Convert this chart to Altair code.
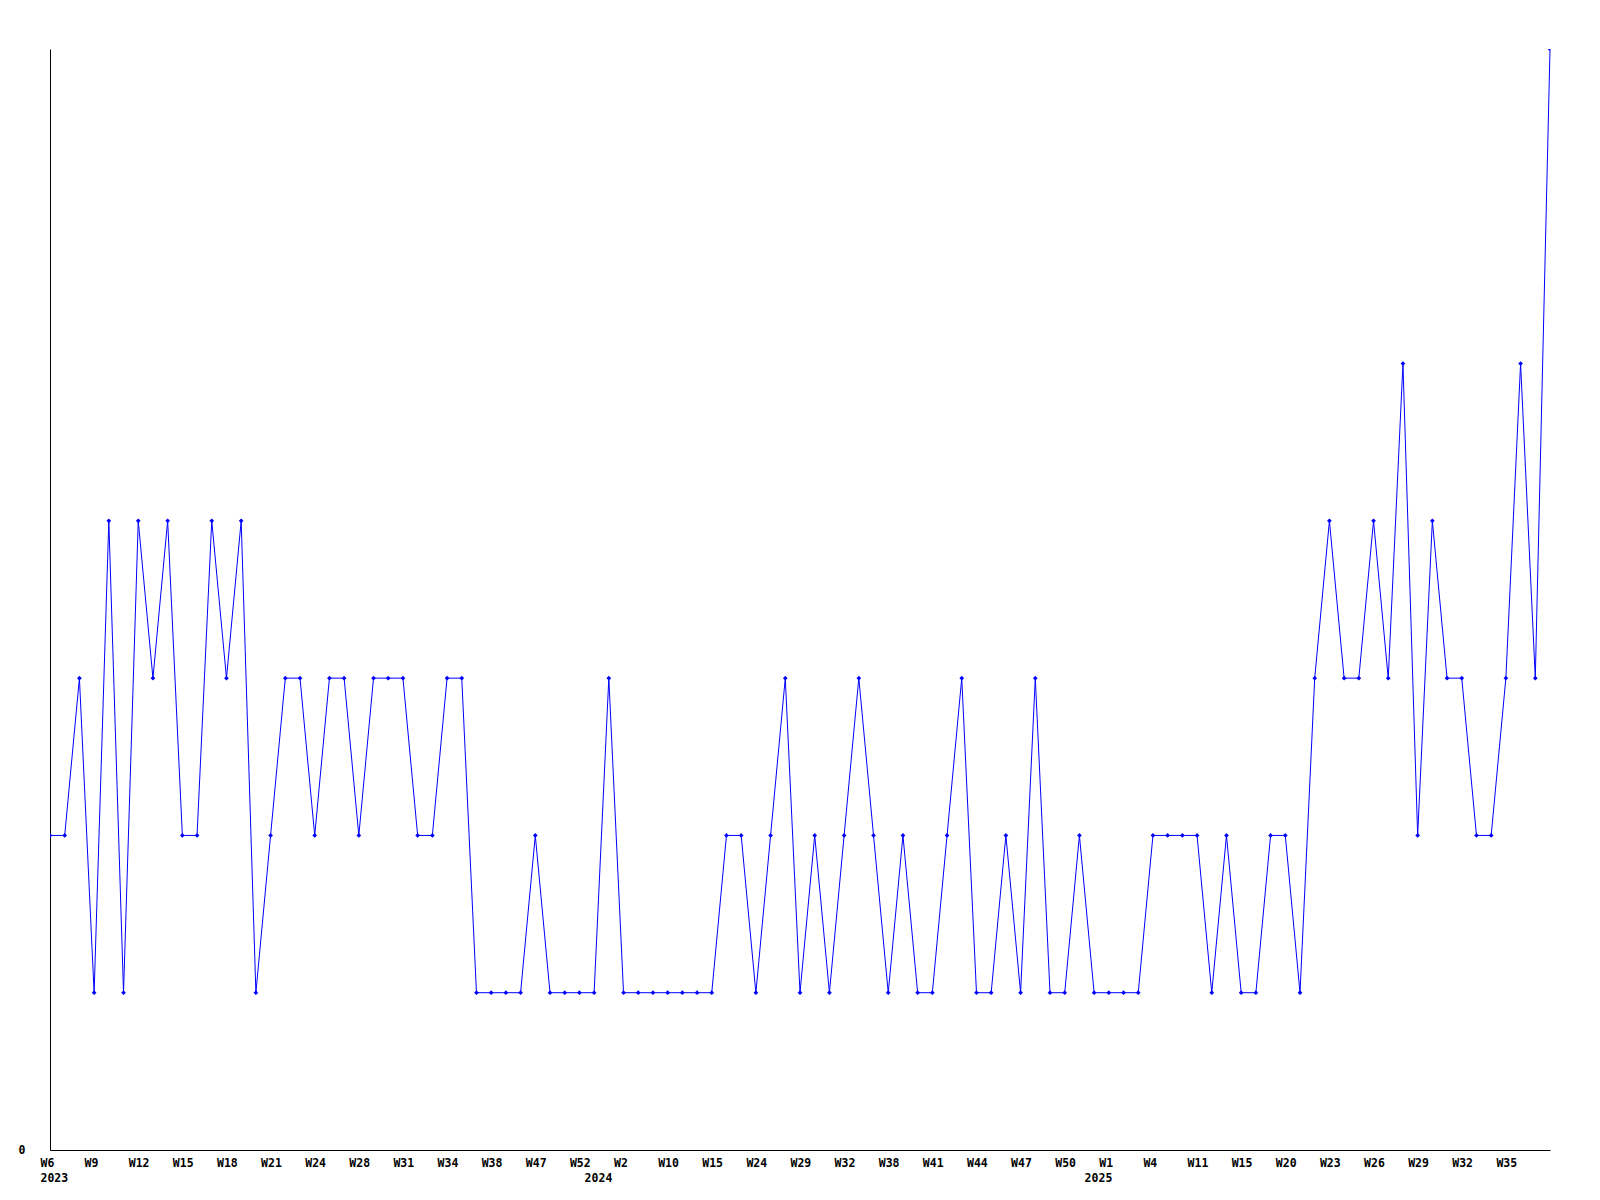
import json
import altair as alt
import pandas as pd

# Series values, one per plotted week (in order)
values = [
    2, 2, 3, 1, 4, 1, 4, 3, 4, 2,
    2, 4, 3, 4, 1, 2, 3, 3, 2, 3,
    3, 2, 3, 3, 3, 2, 2, 3, 3, 1,
    1, 1, 1, 2, 1, 1, 1, 1, 3, 1,
    1, 1, 1, 1, 1, 1, 2, 2, 1, 2,
    3, 1, 2, 1, 2, 3, 2, 1, 2, 1,
    1, 2, 3, 1, 1, 2, 1, 3, 1, 1,
    2, 1, 1, 1, 1, 2, 2, 2, 2, 1,
    2, 1, 1, 2, 2, 1, 3, 4, 3, 3,
    4, 3, 5, 2, 4, 3, 3, 2, 2, 3,
    5, 3, 7,
]

# Tick labels shown every third point
week_ticks = [
    "W6", "W9", "W12", "W15", "W18", "W21", "W24", "W28", "W31", "W34",
    "W38", "W47", "W52", "W2", "W10", "W15", "W24", "W29", "W32", "W38",
    "W41", "W44", "W47", "W50", "W1", "W4", "W11", "W15", "W20", "W23",
    "W26", "W29", "W32", "W35",
]
tick_step = 3

# Year labels and the point where each year starts
years = ["2023", "2024", "2025"]
year_points = [0, 37, 71]

n = len(values)
df = pd.DataFrame({"idx": list(range(n)), "value": values})

PLOT_W = 1500
PLOT_H = 1101
LABEL_SHIFT = 10  # labels start slightly left of their point

labels = [""] * n
for k, w in enumerate(week_ticks):
    labels[k * tick_step] = w
for yr, p in zip(years, year_points):
    labels[p] = [labels[p], yr]
tick_idx = sorted(set([k * tick_step for k in range(len(week_ticks))] + year_points))
label_expr = json.dumps(labels) + "[round(datum.value)]"

FONT = "DejaVu Sans Mono"
BLUE = "#0000ff"

# main x scale/axis: only the axis line
x_main = alt.X(
    "idx:Q",
    scale=alt.Scale(domain=[0, n - 1], nice=False, zero=False),
    axis=alt.Axis(
        title=None,
        labels=False,
        ticks=False,
        grid=False,
        orient="bottom",
        domainColor="#000000",
        domainWidth=1,
    ),
)
# label axis: same mapping, shifted left so labels start before their point
x_lab = alt.X(
    "idx:Q",
    scale=alt.Scale(domain=[0, n - 1], range=[-LABEL_SHIFT, PLOT_W - LABEL_SHIFT], nice=False, zero=False),
    axis=alt.Axis(
        title=None,
        orient="bottom",
        values=tick_idx,
        labelExpr=label_expr,
        domain=False,
        ticks=False,
        grid=False,
        labelAlign="left",
        labelBaseline="top",
        labelPadding=7,
        labelLineHeight=15,
        labelOverlap=False,
        labelFlush=False,
        labelBound=False,
        labelFont=FONT,
        labelFontWeight="bold",
        labelFontSize=11.5,
        labelColor="#000000",
    ),
)
y = alt.Y(
    "value:Q",
    scale=alt.Scale(domain=[0, 7], nice=False, zero=True),
    axis=alt.Axis(
        title=None,
        values=[0],
        ticks=False,
        grid=False,
        labelPadding=25,
        labelFont=FONT,
        labelFontWeight="bold",
        labelFontSize=11.5,
        labelColor="#000000",
        domainColor="#000000",
        domainWidth=1,
    ),
)

base = alt.Chart(df)
line = base.mark_line(color=BLUE, strokeWidth=1).encode(x=x_main, y=y)
pts = base.mark_point(shape="diamond", filled=True, color=BLUE, size=22, opacity=1, clip=True).encode(x=x_main, y=y)
marks = alt.layer(line, pts)
label_layer = base.mark_point(opacity=0).encode(x=x_lab)

chart = (
    alt.layer(marks, label_layer)
    .resolve_scale(x="independent")
    .properties(
        width=PLOT_W,
        height=PLOT_H,
        autosize=alt.AutoSizeParams(type="none"),
        padding={"left": 42, "top": 41, "right": 10, "bottom": 40},
        background="#ffffff",
    )
    .configure_view(strokeWidth=0)
)

chart.save("out.html", embed_options={"renderer": "svg", "actions": False})
